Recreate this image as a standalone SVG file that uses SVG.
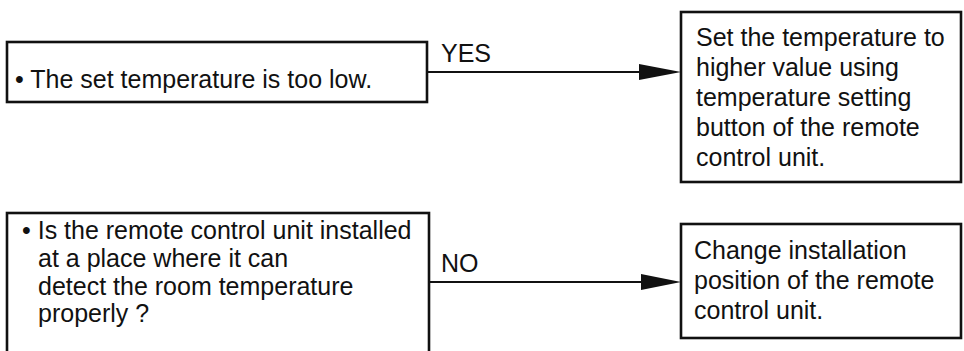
<svg xmlns="http://www.w3.org/2000/svg" width="964" height="351" viewBox="0 0 964 351">
<defs>
<style>
.box{fill:#fff;stroke:#111;stroke-width:2.6}
.t{font-family:"Liberation Sans",Arial,sans-serif;font-size:25px;fill:#111}
.c{stroke:#111;stroke-width:1.8;fill:none}
.ah{fill:#111}
</style>
</defs>
<rect width="964" height="351" fill="#fff"/>
<g id="n1">
<rect class="box" x="7" y="42" width="420" height="60"/>
<text class="t" x="15" y="88">• The set temperature is too low.</text>
</g>
<g id="n2">
<rect class="box" x="681" y="12" width="280" height="170"/>
<text class="t" x="696" y="46">Set the temperature to</text>
<text class="t" x="696" y="76">higher value using</text>
<text class="t" x="696" y="106">temperature setting</text>
<text class="t" x="696" y="136">button of the remote</text>
<text class="t" x="696" y="166">control unit.</text>
</g>
<g id="n3">
<rect class="box" x="7" y="213" width="422" height="150"/>
<text class="t" x="22" y="239">• Is the remote control unit installed</text>
<text class="t" x="38" y="267">at a place where it can</text>
<text class="t" x="38" y="295">detect the room temperature</text>
<text class="t" x="38" y="322">properly ?</text>
</g>
<g id="n4">
<rect class="box" x="681" y="224" width="280" height="114"/>
<text class="t" x="694" y="259">Change installation</text>
<text class="t" x="694" y="289">position of the remote</text>
<text class="t" x="694" y="319">control unit.</text>
</g>
<g id="connectors">
<line class="c" x1="427" y1="72" x2="645" y2="72"/>
<polygon class="ah" points="639,64 681,72 639,80"/>
<text class="t" x="441" y="62">YES</text>
<line class="c" x1="429" y1="282" x2="645" y2="282"/>
<polygon class="ah" points="641,274 681,282 641,290"/>
<text class="t" x="441" y="272">NO</text>
</g>
</svg>
